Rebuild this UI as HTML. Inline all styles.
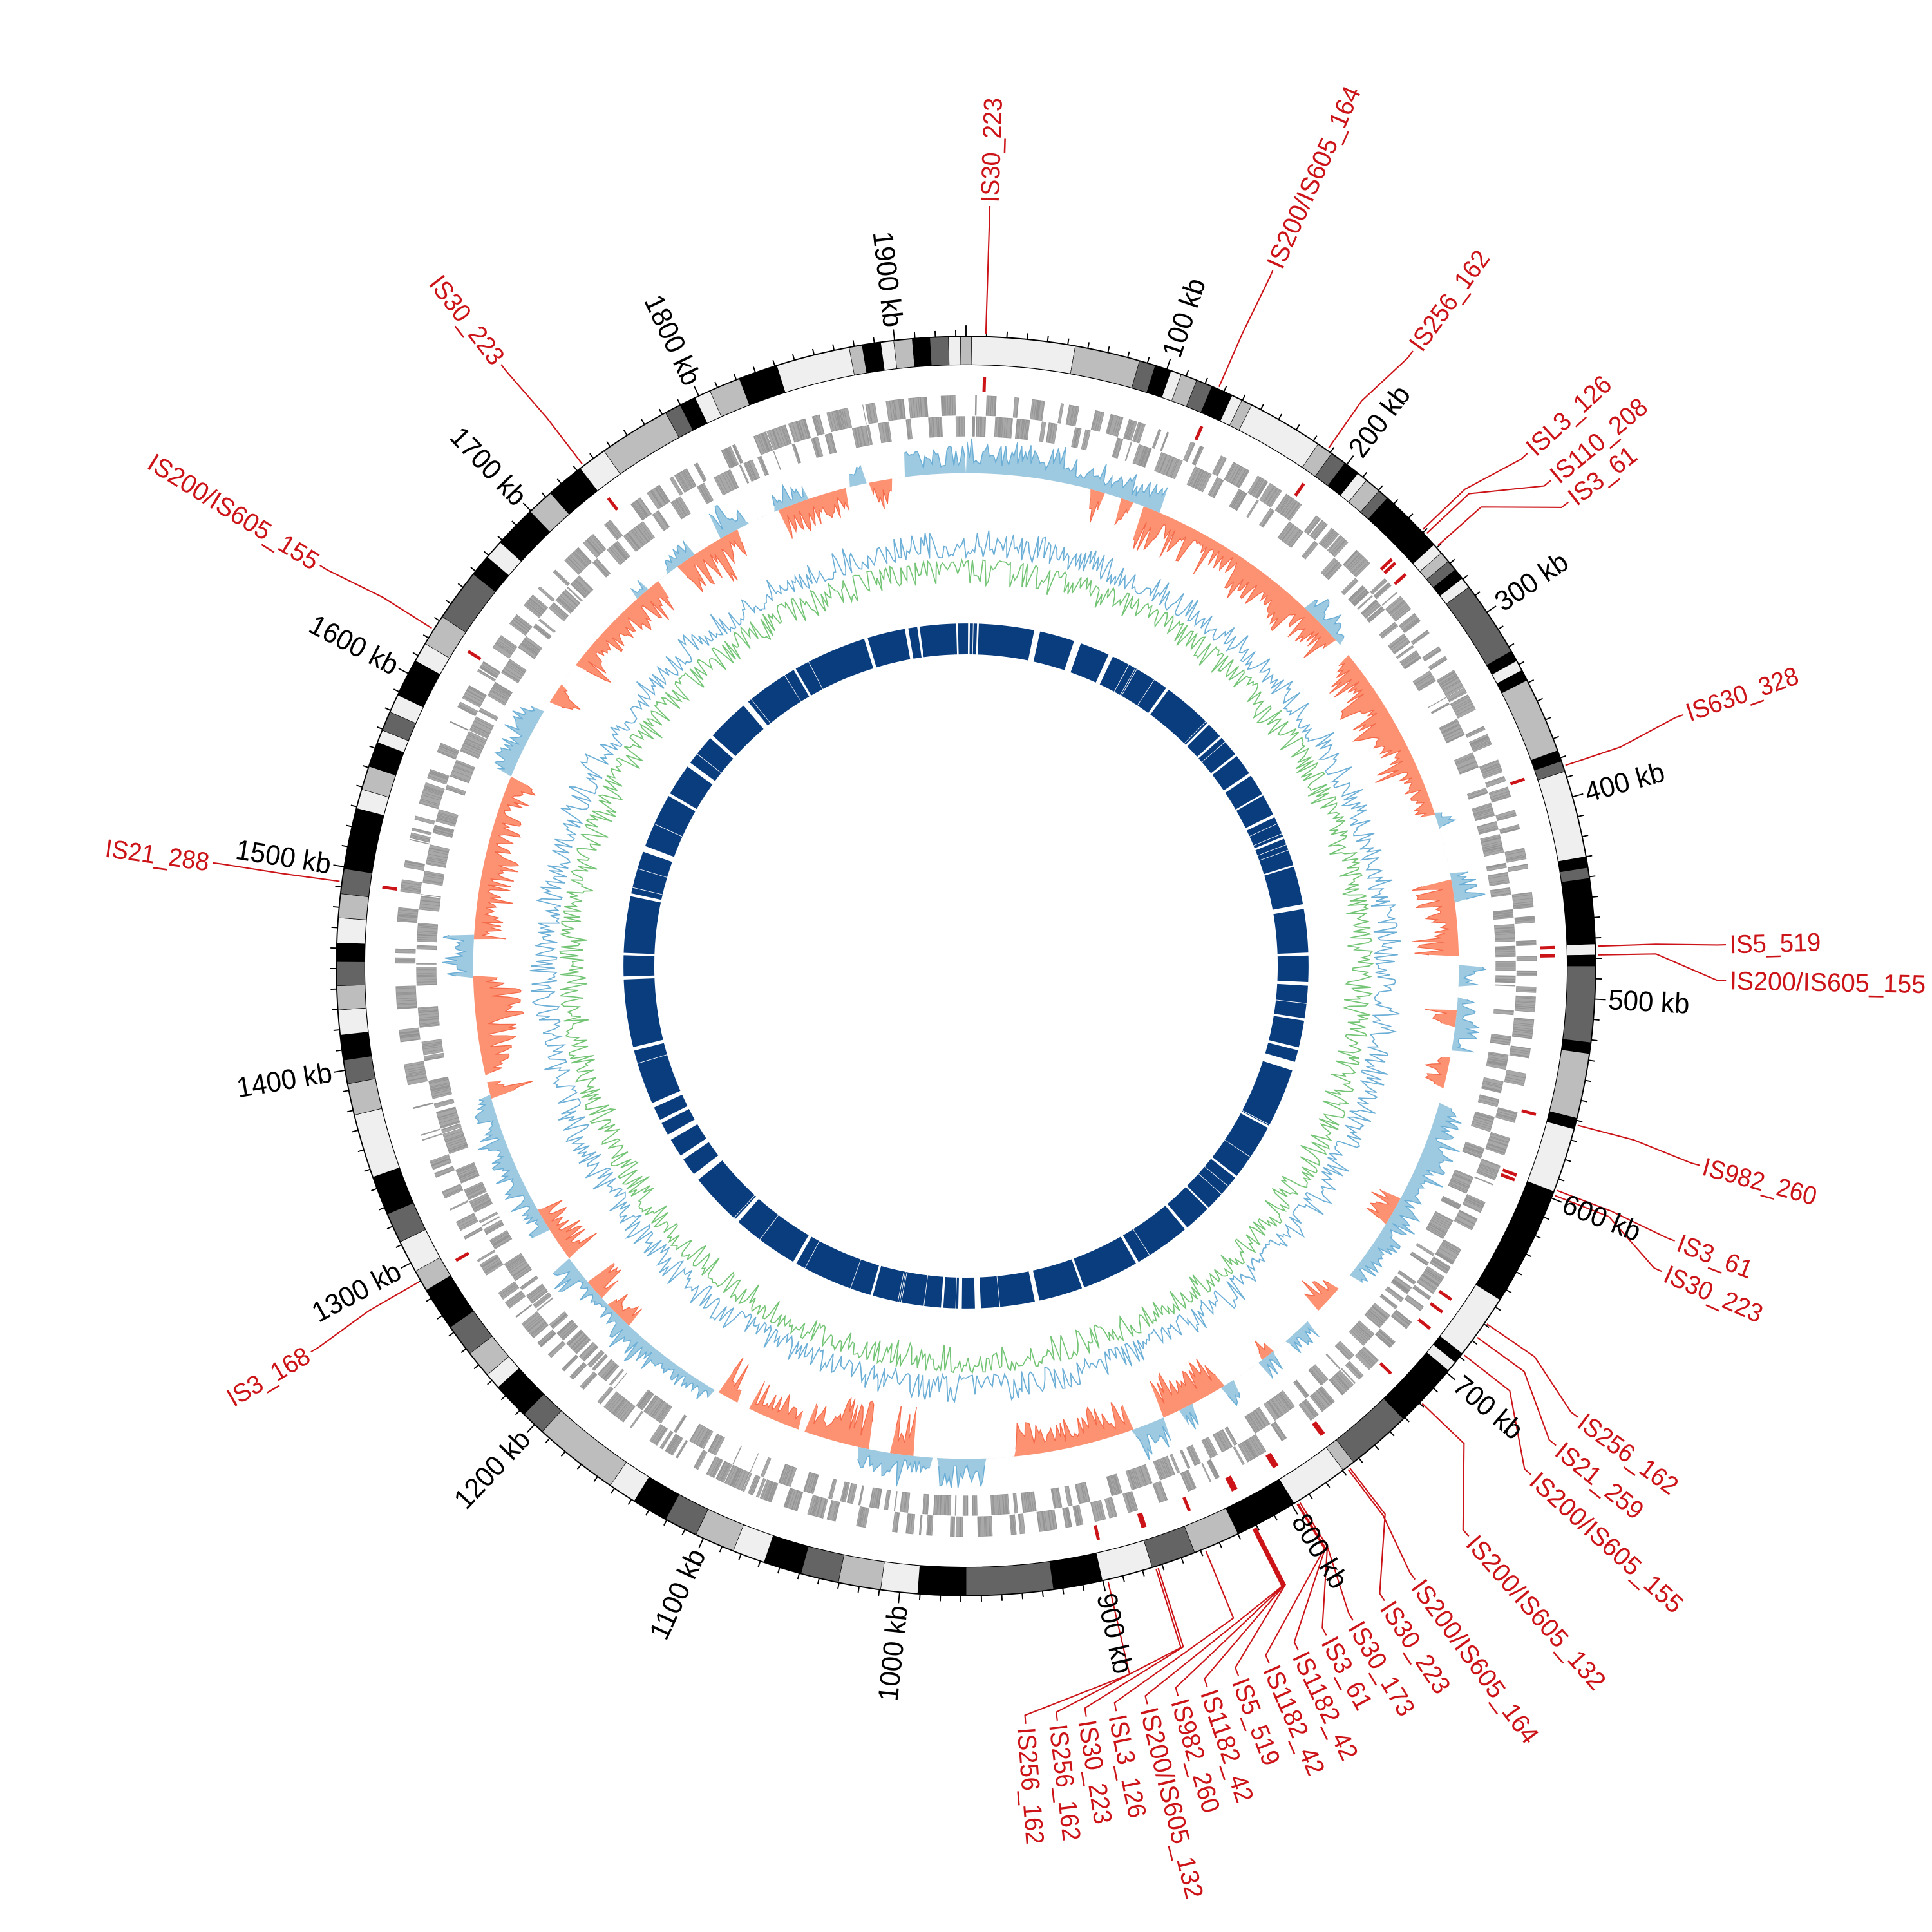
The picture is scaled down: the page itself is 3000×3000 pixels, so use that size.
<!DOCTYPE html>
<html><head><meta charset="utf-8">
<style>
html,body{margin:0;padding:0;background:#fff}
svg{display:block}
.t{font-family:"Liberation Sans Narrow","Liberation Sans",sans-serif;font-size:23px;fill:#000;dominant-baseline:central}
.r{font-family:"Liberation Sans Narrow","Liberation Sans",sans-serif;font-size:21px;fill:#cc1418;dominant-baseline:central}
.e{text-anchor:end}
</style></head>
<body>
<svg id="s" width="3000" height="3000" viewBox="0 0 1568 1568" xmlns="http://www.w3.org/2000/svg">
<rect width="1568" height="1568" fill="#fff"/>
<g id="data"></g>
<g>
<text class="t" x="1306" y="784" transform="rotate(-71.40 784 784)" textLength="66" lengthAdjust="spacingAndGlyphs">100 kb</text>
<text class="t" x="1306" y="784" transform="rotate(-52.79 784 784)" textLength="66" lengthAdjust="spacingAndGlyphs">200 kb</text>
<text class="t" x="1306" y="784" transform="rotate(-34.19 784 784)" textLength="66" lengthAdjust="spacingAndGlyphs">300 kb</text>
<text class="t" x="1306" y="784" transform="rotate(-15.58 784 784)" textLength="66" lengthAdjust="spacingAndGlyphs">400 kb</text>
<text class="t" x="1306" y="784" transform="rotate(3.02 784 784)" textLength="66" lengthAdjust="spacingAndGlyphs">500 kb</text>
<text class="t" x="1306" y="784" transform="rotate(21.63 784 784)" textLength="66" lengthAdjust="spacingAndGlyphs">600 kb</text>
<text class="t" x="1306" y="784" transform="rotate(40.23 784 784)" textLength="66" lengthAdjust="spacingAndGlyphs">700 kb</text>
<text class="t" x="1306" y="784" transform="rotate(58.84 784 784)" textLength="66" lengthAdjust="spacingAndGlyphs">800 kb</text>
<text class="t" x="1306" y="784" transform="rotate(77.44 784 784)" textLength="66" lengthAdjust="spacingAndGlyphs">900 kb</text>
<text class="t e" x="262" y="784" transform="rotate(276.05 784 784)" textLength="78" lengthAdjust="spacingAndGlyphs">1000 kb</text>
<text class="t e" x="262" y="784" transform="rotate(294.65 784 784)" textLength="78" lengthAdjust="spacingAndGlyphs">1100 kb</text>
<text class="t e" x="262" y="784" transform="rotate(313.26 784 784)" textLength="78" lengthAdjust="spacingAndGlyphs">1200 kb</text>
<text class="t e" x="262" y="784" transform="rotate(331.86 784 784)" textLength="78" lengthAdjust="spacingAndGlyphs">1300 kb</text>
<text class="t e" x="262" y="784" transform="rotate(350.47 784 784)" textLength="78" lengthAdjust="spacingAndGlyphs">1400 kb</text>
<text class="t e" x="262" y="784" transform="rotate(369.07 784 784)" textLength="78" lengthAdjust="spacingAndGlyphs">1500 kb</text>
<text class="t e" x="262" y="784" transform="rotate(387.67 784 784)" textLength="78" lengthAdjust="spacingAndGlyphs">1600 kb</text>
<text class="t e" x="262" y="784" transform="rotate(406.28 784 784)" textLength="78" lengthAdjust="spacingAndGlyphs">1700 kb</text>
<text class="t e" x="262" y="784" transform="rotate(424.88 784 784)" textLength="78" lengthAdjust="spacingAndGlyphs">1800 kb</text>
<text class="t e" x="262" y="784" transform="rotate(443.49 784 784)" textLength="78" lengthAdjust="spacingAndGlyphs">1900 kb</text>

<text class="r" x="1404" y="784" transform="rotate(-88.2 784 784)" textLength="85" lengthAdjust="spacingAndGlyphs">IS30_223</text>
<text class="r" x="1404" y="784" transform="rotate(-66.2 784 784)" textLength="159" lengthAdjust="spacingAndGlyphs">IS200/IS605_164</text>
<text class="r" x="1404" y="784" transform="rotate(-54 784 784)" textLength="95" lengthAdjust="spacingAndGlyphs">IS256_162</text>
<text class="r" x="1404" y="784" transform="rotate(-42.4 784 784)" textLength="85" lengthAdjust="spacingAndGlyphs">ISL3_126</text>
<text class="r" x="1404" y="784" transform="rotate(-39.7 784 784)" textLength="95" lengthAdjust="spacingAndGlyphs">IS110_208</text>
<text class="r" x="1404" y="784" transform="rotate(-37.6 784 784)" textLength="64" lengthAdjust="spacingAndGlyphs">IS3_61</text>
<text class="r" x="1404" y="784" transform="rotate(-19.3 784 784)" textLength="95" lengthAdjust="spacingAndGlyphs">IS630_328</text>
<text class="r" x="1404" y="784" transform="rotate(-1.6 784 784)" textLength="74" lengthAdjust="spacingAndGlyphs">IS5_519</text>
<text class="r" x="1404" y="784" transform="rotate(1.1 784 784)" textLength="159" lengthAdjust="spacingAndGlyphs">IS200/IS605_155</text>
<text class="r" x="1404" y="784" transform="rotate(15.2 784 784)" textLength="95" lengthAdjust="spacingAndGlyphs">IS982_260</text>
<text class="r" x="1404" y="784" transform="rotate(21.2 784 784)" textLength="64" lengthAdjust="spacingAndGlyphs">IS3_61</text>
<text class="r" x="1404" y="784" transform="rotate(23.7 784 784)" textLength="85" lengthAdjust="spacingAndGlyphs">IS30_223</text>
<text class="r" x="1404" y="784" transform="rotate(36.4 784 784)" textLength="95" lengthAdjust="spacingAndGlyphs">IS256_162</text>
<text class="r" x="1404" y="784" transform="rotate(39.1 784 784)" textLength="85" lengthAdjust="spacingAndGlyphs">IS21_259</text>
<text class="r" x="1404" y="784" transform="rotate(42 784 784)" textLength="159" lengthAdjust="spacingAndGlyphs">IS200/IS605_155</text>
<text class="r" x="1404" y="784" transform="rotate(48.6 784 784)" textLength="159" lengthAdjust="spacingAndGlyphs">IS200/IS605_132</text>
<text class="r" x="1404" y="784" transform="rotate(53.8 784 784)" textLength="159" lengthAdjust="spacingAndGlyphs">IS200/IS605_164</text>
<text class="r" x="1404" y="784" transform="rotate(56.6 784 784)" textLength="85" lengthAdjust="spacingAndGlyphs">IS30_223</text>
<text class="r" x="1404" y="784" transform="rotate(59.4 784 784)" textLength="85" lengthAdjust="spacingAndGlyphs">IS30_173</text>
<text class="r" x="1404" y="784" transform="rotate(61.7 784 784)" textLength="64" lengthAdjust="spacingAndGlyphs">IS3_61</text>
<text class="r" x="1404" y="784" transform="rotate(64.1 784 784)" textLength="95" lengthAdjust="spacingAndGlyphs">IS1182_42</text>
<text class="r" x="1404" y="784" transform="rotate(66.5 784 784)" textLength="95" lengthAdjust="spacingAndGlyphs">IS1182_42</text>
<text class="r" x="1404" y="784" transform="rotate(69 784 784)" textLength="74" lengthAdjust="spacingAndGlyphs">IS5_519</text>
<text class="r" x="1404" y="784" transform="rotate(71.5 784 784)" textLength="95" lengthAdjust="spacingAndGlyphs">IS1182_42</text>
<text class="r" x="1404" y="784" transform="rotate(73.8 784 784)" textLength="95" lengthAdjust="spacingAndGlyphs">IS982_260</text>
<text class="r" x="1404" y="784" transform="rotate(76.2 784 784)" textLength="159" lengthAdjust="spacingAndGlyphs">IS200/IS605_132</text>
<text class="r" x="1404" y="784" transform="rotate(78.6 784 784)" textLength="85" lengthAdjust="spacingAndGlyphs">ISL3_126</text>
<text class="r" x="1404" y="784" transform="rotate(80.9 784 784)" textLength="85" lengthAdjust="spacingAndGlyphs">IS30_223</text>
<text class="r" x="1404" y="784" transform="rotate(83.1 784 784)" textLength="95" lengthAdjust="spacingAndGlyphs">IS256_162</text>
<text class="r" x="1404" y="784" transform="rotate(85.5 784 784)" textLength="95" lengthAdjust="spacingAndGlyphs">IS256_162</text>
<text class="r e" x="164" y="784" transform="rotate(329.5 784 784)" textLength="74" lengthAdjust="spacingAndGlyphs">IS3_168</text>
<text class="r e" x="164" y="784" transform="rotate(367.8 784 784)" textLength="85" lengthAdjust="spacingAndGlyphs">IS21_288</text>
<text class="r e" x="164" y="784" transform="rotate(391.8 784 784)" textLength="159" lengthAdjust="spacingAndGlyphs">IS200/IS605_155</text>
<text class="r e" x="164" y="784" transform="rotate(412.3 784 784)" textLength="85" lengthAdjust="spacingAndGlyphs">IS30_223</text>
</g>
</svg>
<script>
(function(){
const C=784;
function P(r,a){const t=a*Math.PI/180;return [C+r*Math.sin(t),C-r*Math.cos(t)];}
function q(p){return p[0].toFixed(2)+","+p[1].toFixed(2);}
function arc(r1,r2,a1,a2){const L=(a2-a1)>180?1:0;
return "M"+q(P(r2,a1))+"A"+r2+","+r2+" 0 "+L+" 1 "+q(P(r2,a2))+"L"+q(P(r1,a2))+"A"+r1+","+r1+" 0 "+L+" 0 "+q(P(r1,a1))+"Z";}
let seed=987654;
function rnd(){seed|=0;seed=seed+0x6D2B79F5|0;let t=Math.imul(seed^seed>>>15,1|seed);t=t+Math.imul(t^t>>>7,61|t)^t;return((t^t>>>14)>>>0)/4294967296;}
const o=[];
o.push('<circle cx="784" cy="784" r="499.5" fill="none" stroke="#efefef" stroke-width="23"/>');
const W='#efefef',L='#bdbdbd',G='#646464',B='#000';
const bands=[[0.5,10,W],[10,16,L],[16,17.5,G],[17.5,19,B],[19,20,W],[20,21.5,L],[21.5,23,G],[23,25,B],[25,26,W],[26,27,L],[27,34,W],[34,35.5,L],[35.5,37,G],[37,38.5,B],[38.5,39.5,W],[39.5,41,L],[41,42,G],[42,48,B],[48,49,W],[49,50,L],[50,51,G],[51,52,B],[52,53,W],[53,60,G],[60,61,B],[61,62,W],[62,63,B],[63,70,L],[70,71,B],[71,72,G],[72,80,W],[80,81,B],[81,82,G],[82,88,B],[88,89,W],[89,90,B],[90,97,G],[97,98,B],[98,104,L],[104,105,B],[105,111,W],[111,122,B],[122,128,W],[128,129,B],[129,130,W],[130,136,B],[136,142,G],[142,143.2,L],[143.2,148.6,W],[148.6,154.4,B],[154.4,158.7,L],[158.7,162.8,G],[162.8,167.5,W],[167.5,172,B],[172,180,G],[180,184.4,B],[184.4,187.8,W],[187.8,191.7,L],[191.7,195.2,G],[195.2,198.7,B],[198.7,201.7,W],[201.7,205.4,L],[205.4,208.5,G],[208.5,211.8,B],[211.8,214.4,W],[214.4,222.3,L],[222.3,224.6,G],[224.6,228,B],[228,229.5,W],[229.5,232,L],[232,235,G],[235,239,B],[239,241,L],[241,244,W],[244,246.8,G],[246.8,250.4,B],[250.4,256.3,W],[256.3,259.2,L],[259.2,261.4,G],[261.4,263.7,B],[263.7,266,W],[266,268.2,L],[268.2,270.4,G],[270.4,272.1,B],[272.1,274.4,W],[274.4,276.6,L],[276.6,278.9,G],[278.9,284.5,B],[284.5,286.3,W],[286.3,288.5,L],[288.5,290.8,B],[290.8,292,W],[292,293.8,G],[293.8,295.5,W],[295.5,299,B],[299,300.8,W],[300.8,303.7,L],[303.7,308.5,G],[308.5,310.5,B],[310.5,312.3,W],[312.3,316.2,B],[316.2,318.7,L],[318.7,322.2,B],[322.2,324.9,W],[324.9,331.5,L],[331.5,333,G],[333,334.5,B],[334.5,336,W],[336,338.9,L],[338.9,342.5,B],[342.5,349.3,W],[349.3,350.5,L],[350.5,352.2,B],[352.2,353.4,W],[353.4,355.1,L],[355.1,356.7,B],[356.7,358.4,G],[358.4,359.5,W],[359.5,360.5,L]];
bands.forEach(b=>o.push('<path d="'+arc(488,511,b[0],b[1])+'" fill="'+b[2]+'" stroke="#000" stroke-width="0.35"/>'));
o.push('<circle cx="784" cy="784" r="511" fill="none" stroke="#000" stroke-width="1"/>');
o.push('<circle cx="784" cy="784" r="488" fill="none" stroke="#000" stroke-width="0.6"/>');
let tp='';
for(let k=0;k<=1930;k+=10){const a=k*360/1935;const len=(k%100==0)?9:5;tp+="M"+q(P(511,a))+"L"+q(P(511+len,a));}
o.push('<path d="'+tp+'" stroke="#000" stroke-width="1" fill="none"/>');
// gene track
let gp='',a=0.3,strand=0,run=0;
while(a<359.7){
 if(rnd()<0.03){a+=0.1+rnd()*0.6;continue;}
 const len=0.03+rnd()*rnd()*0.45;
 if(run<=0){strand=1-strand;run=1+Math.floor(rnd()*12);} run--;
 const rr=strand?[430,446]:[447,463];
 gp+=arc(rr[0],rr[1],a,Math.min(a+len,359.9));
 a+=len+0.02;
}
o.push('<path d="'+gp+'" fill="#a8a8a8" stroke="#939393" stroke-width="0.35"/>');
// histogram
const regs=[[0,20,'b'],[20,28,'m'],[28,72,'o'],[72,80,'m'],[80,90,'o'],[90,98,'b'],[98,106,'o'],[106,128,'b'],[128,145,'m'],[145,175,'o'],[175,192,'b'],[192,210,'o'],[210,232,'b'],[232,240,'o'],[240,252,'b'],[252,262,'o'],[262,272,'m'],[272,292,'o'],[292,300,'b'],[300,322,'o'],[322,340,'m'],[340,352,'o'],[352,360,'b']];
function reg(x){for(const r of regs)if(x>=r[0]&&x<r[1])return r[2];return 'm';}
const N=1440,st=0.25;const bl=[],or=[];
let onB=false,onO=false,cb=0,co=0,eb=0,eo=0;
for(let i=0;i<N;i++){const x=i*st,t=reg(x);
 const pb=t=='b'?0.85:(t=='m'?0.6:0.15),po=t=='o'?0.85:(t=='m'?0.55:0.12);
 if(cb<=0){onB=rnd()<pb;cb=3+Math.floor(rnd()*14);eb=0.45+rnd()*0.55;} cb--;
 if(co<=0){onO=rnd()<po;co=3+Math.floor(rnd()*14);eo=0.45+rnd()*0.55;} co--;
 let vb=onB?eb*(0.2+0.8*Math.pow(rnd(),1.2))*30:0;
 let vo=onO?eo*(0.2+0.8*Math.pow(rnd(),1.2))*42:0;
 bl.push(vb);or.push(vo);}
function ringFill(base,vals,sign,step){let d="M"+q(P(base,0));
 for(let i=0;i<vals.length;i++){d+="L"+q(P(base+sign*vals[i],(i+0.5)*step));}
 for(let x=360;x>=0;x-=1)d+="L"+q(P(base,x));return d+"Z";}
function ringStroke(base,vals,sign,step){let d="",on=false;
 for(let i=0;i<vals.length;i++){if(vals[i]>0.3){d+=(on?"L":"M")+q(P(base+sign*vals[i],(i+0.5)*step));on=true;}else on=false;}return d;}
o.push('<path d="'+ringFill(400,or,-1,st)+'" fill="#fc9272"/>');
o.push('<path d="'+ringStroke(400,or,-1,st)+'" fill="none" stroke="#f46a4a" stroke-width="0.7"/>');
o.push('<path d="'+ringFill(400,bl,1,st)+'" fill="#9ecae1"/>');
o.push('<path d="'+ringStroke(400,bl,1,st)+'" fill="none" stroke="#6baed6" stroke-width="0.8"/>');
// line track
const M=1200,s2=0.3;const gv=[],bv=[];
for(let i=0;i<M;i++){gv.push(Math.pow(rnd(),1.8)*22);bv.push(Math.pow(rnd(),1.8)*22);}
function linePath(base,vals,sign,step){let d="";for(let i=0;i<vals.length;i++){d+=(i?"L":"M")+q(P(base+sign*vals[i],i*step));}return d+"Z";}
o.push('<path d="'+linePath(330,gv,-1,s2)+'" fill="none" stroke="#74c476" stroke-width="0.9"/>');
o.push('<path d="'+linePath(332,bv,1,s2)+'" fill="none" stroke="#6baed6" stroke-width="0.9"/>');
// blue ring
o.push('<circle cx="784" cy="784" r="265.5" fill="none" stroke="#0a3d7e" stroke-width="25"/>');
const gaps=[[-1.5,0.3],[0.5,0.3],[2,0.3],[-10,0.6],[12,1],[19,1.2],[25,0.8],[36,0.5],[45,0.4],[48,0.3],[52,0.4],[56,0.5],[60,0.3],[64,0.5],[68,0.4],[73,0.3],[80,0.8],[88,0.5],[93,0.6],[99,0.4],[104,0.5],[107,1.5],[118,0.4],[128,0.4],[135,0.3],[140,0.5],[150,0.5],[160,0.4],[168,0.8],[178,1],[181,0.6],[184,0.4],[196,0.4],[210,0.6],[222,0.7],[232,1.2],[236,0.8],[240,1],[243,0.6],[246,0.8],[256,0.6],[268,0.5],[272,0.4],[282,0.5],[290,1],[300,0.5],[306,0.8],[312,0.6],[320,1],[330,0.4],[343,0.6],[352,0.4]];
for(let i=0;i<40;i++)gaps.push([rnd()*360,0.1]);
let bp='';gaps.forEach(g=>{const c=(g[0]+360)%360;bp+=arc(252,279,c-g[1]/2,c+g[1]/2);});
o.push('<path d="'+bp+'" fill="#fff"/>');
const F=[[1.8,1.8,560],[23.6,23.8,560],[35,36,560],[46.3,47.6,560],[46.8,50.3,560],[48.3,52.4,560],[71.5,70.7,560],[88.2,88.4,560],[89,91.1,560],[104.6,105.2,560],[110.8,111.2,560],[111.3,113.7,560],[124.5,126.4,560],[126,129.1,560],[128,132,560],[133.8,138.6,560],[142.8,143.8,560],[142.6,146.6,560],[148.1,149.4,555],[148.1,151.7,555],[148.3,154.1,555],[148.4,156.5,555],[152.7,159,565],[152.8,161.5,565],[152.9,163.8,565],[153,166.2,565],[157.7,168.6,572],[162.3,170.9,580],[162.5,173.1,580],[167,175.5,590],[240,239.5,560],[277.7,277.8,560],[302.3,301.8,560],[322.6,322.3,560]];
let lp='',dp='';
F.forEach(f=>{lp+="M"+q(P(513,f[0]))+"L"+q(P(f[2],f[0]))+"L"+q(P(610,f[1]))+"L"+q(P(617,f[1]));
 dp+="M"+q(P(466,f[0]))+"L"+q(P(478,f[0]));});
o.push('<path d="'+lp+'" fill="none" stroke="#cc1418" stroke-width="1.1"/>');
o.push('<path d="'+dp+'" fill="none" stroke="#cc1418" stroke-width="2.6"/>');
document.getElementById('data').innerHTML=o.join('');
})();
</script>
</body></html>
